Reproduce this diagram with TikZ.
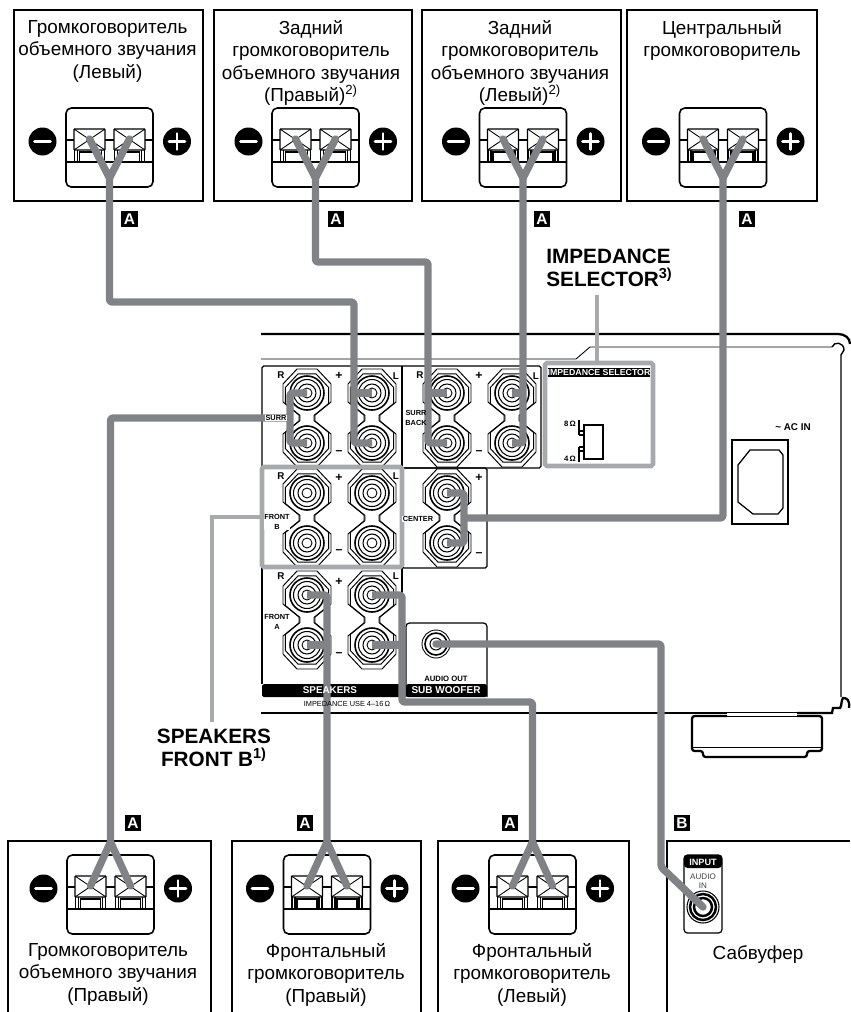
\documentclass[tikz,border=0pt]{standalone}
\usepackage{fontspec}
\setmainfont{Liberation Sans}
\definecolor{wiregray}{HTML}{808285}
\definecolor{markgray}{HTML}{A7A9AC}
\newcommand{\fs}[1]{\fontsize{#1}{#1}\selectfont}
\begin{document}
\begin{tikzpicture}[
    x=0.02cm, y=-0.02cm,
    wire/.style={draw=wiregray, line width=4.2pt, line join=round},
    callout/.style={draw=markgray, line width=2.6pt},
    thinline/.style={draw=black, line width=0.5pt},
    thickline/.style={draw=black, line width=1.3pt},
    spkbox/.style={draw=black, line width=0.6pt},
    spktext/.style={align=center, inner sep=0pt, anchor=north, execute at begin node=\strut, font=\fontsize{10.75}{12.8}\selectfont},
    notetext/.style={inner sep=0pt, font=\fontsize{11.8}{12.9}\selectfont\bfseries},
    tag/.style={fill=black, text=white, font=\fs{8.8}\bfseries, minimum size=9.6pt, inner sep=0pt},
    panellabel/.style={inner sep=0.4pt, align=center, font=\fontsize{4.2}{5.6}\selectfont\bfseries},
    polarity/.style={inner sep=0pt, font=\fs{7}\bfseries},
    terminalblock/.pic={
        \draw[black, line width=0.9pt, rounded corners=3pt] (-43.5,0) rectangle (43.5,79);
        \draw[thinline, line width=0.7pt] (-43.5,32) -- (-35,32) (-5,32) -- (5,32) (35,32) -- (43.5,32) (-43.5,54) -- (43.5,54);
        \foreach \c in {-20,20} {
            \draw[black, fill=white, line width=0.8pt, rounded corners=0.5pt] (\c-15.5,21) rectangle (\c+15.5,42);
            \draw[thinline] (\c-15.5,21) -- (\c+15.5,42) (\c-15.5,42) -- (\c+15.5,21);
            \draw[thinline, line width=0.7pt] (\c-15,42) -- (\c-15,55) (\c-12,42) -- (\c-12,55) (\c+12,42) -- (\c+12,55) (\c+15,42) -- (\c+15,55);
            \draw[thinline, line width=0.7pt] (\c-10,55) -- (\c-10,44) -- (\c+10,44) -- (\c+10,55);
        }
        \fill[black] (-67,33.5) circle[radius=14];
        \fill[black] (67.5,33.5) circle[radius=14];
        \draw[white, line width=1.5pt, line cap=round] (-75,33.5) -- (-59,33.5) (59.5,33.5) -- (75.5,33.5) (67.5,25.5) -- (67.5,41.5);
        \coordinate (-neg) at (-20,31);
        \coordinate (-pos) at (20,31);
        \coordinate (-forkdown) at (0,70);
        \coordinate (-forkup) at (0,-13);
    },
    postpair/.pic={
        \foreach \s in {1,0.9}
            \draw[thinline, line width=0.55pt, shift={(0,25)}, scale=\s] (10,-49) -- (24,-34) -- (24,-16) -- (8,-3) -- (8,3) -- (24,16) -- (24,34) -- (10,49) -- (-10,49) -- (-24,34) -- (-24,16) -- (-8,3) -- (-8,-3) -- (-24,-16) -- (-24,-34) -- (-10,-49) -- cycle;
        \foreach \r in {0,50} {
            \draw[black, fill=white, line width=0.9pt] (0,\r) circle[radius=17];
            \draw[black, line width=0.6pt] (0,\r) circle[radius=13.5];
            \draw[black, line width=0.6pt] (0,\r) circle[radius=9];
            \draw[black, line width=0.5pt] (0,\r) circle[radius=5];
        }
        \coordinate (-top) at (0,0);
        \coordinate (-bot) at (0,50);
    }
]
\useasboundingbox (0,0) rectangle (850,1012);

% Speaker boxes, top row
\draw[spkbox] (14,10) rectangle (203,201);
\draw[spkbox] (214,10) rectangle (412,201);
\draw[spkbox] (422,10) rectangle (621,201);
\draw[spkbox] (627,10) rectangle (817,201);
\node[spktext] at (107.5,20) (labelSL) {Громкоговоритель\\объемного звучания\\(Левый)};
\node[spktext] at (311,20) (labelSBR) {Задний\\громкоговоритель\\объемного звучания\\(Правый)\textsuperscript{2)}};
\node[spktext] at (520,20) (labelSBL) {Задний\\громкоговоритель\\объемного звучания\\(Левый)\textsuperscript{2)}};
\node[spktext] at (722,20) (labelC) {Центральный\\громкоговоритель};
\pic (blockSL) at (109.5,108) {terminalblock};
\pic (blockSBR) at (315.5,108) {terminalblock};
\pic (blockSBL) at (523,108) {terminalblock};
\pic (blockC) at (723,108) {terminalblock};

% Speaker boxes, bottom row
\draw[spkbox] (8,1012) -- (8,841) -- (211,841) -- (211,1012);
\draw[spkbox] (232,1012) -- (232,841) -- (421,841) -- (421,1012);
\draw[spkbox] (438,1012) -- (438,841) -- (629,841) -- (629,1012);
\draw[spkbox] (667,1012) -- (667,841) -- (850,841);
\node[spktext] at (108,943) (labelSR) {Громкоговоритель\\объемного звучания\\(Правый)};
\node[spktext] at (326,943) (labelFR) {Фронтальный\\громкоговоритель\\(Правый)};
\node[spktext] at (532,943) (labelFL) {Фронтальный\\громкоговоритель\\(Левый)};
\node[spktext] at (758,943) (labelSub) {Сабвуфер};
\pic (blockSR) at (110.5,855) {terminalblock};
\pic (blockFR) at (327,855) {terminalblock};
\pic (blockFL) at (532.5,855) {terminalblock};

% Subwoofer input
\draw[black, line width=0.7pt, rounded corners=2pt] (684,855) rectangle (722,933);
\fill[black, rounded corners=2pt] (684,855) -- (722,855) -- (722,868) -- (684,868) -- cycle;
\node[text=white, inner sep=0pt, font=\fs{5.2}\bfseries] at (703,862) (inputtitle) {INPUT};
\node[text=black!75, inner sep=0pt, align=center, font=\fontsize{4.6}{5.4}\selectfont] at (703,881) (inputname) {AUDIO\\IN};
\draw[black, line width=0.6pt] (703,907) circle[radius=16];
\draw[black, line width=1.4pt] (703,907) circle[radius=13];
\draw[black, line width=1.4pt] (703,907) circle[radius=9];
\coordinate (subin) at (703,907);

% Receiver outline
\draw[thickline] (261,334) -- (838,334) .. controls (845,334) and (850,338) .. (850,344);
\draw[thinline] (261,359) -- (576,359) -- (590,347) -- (832,347);
\draw[thinline, line width=0.8pt] (832,347) .. controls (834,341) and (844,342) .. (844,350) -- (841,355) -- (841,697);
\draw[thickline] (261,713) -- (727,713);
\draw[thickline] (797,713) -- (832,713) -- (833,708) -- (840,708) .. controls (842,706) and (841,700) .. (843,698) .. controls (847,698) and (850,700) .. (849,708);
\draw[thinline] (727,712) -- (797,712) (727,716) -- (797,716) (692,747) -- (822,747);
\draw[thickline, rounded corners=1.5pt] (727,716) -- (692,716) -- (692,751) -- (703,751) -- (703,757) -- (807,757) -- (807,751) -- (822,751) -- (822,716) -- (797,716);

% AC inlet
\draw[thinline, line width=0.6pt] (732,440) rectangle (788,524);
\draw[thinline, line width=0.7pt] (750,450) -- (779,450) -- (783,455) -- (783,508) -- (778,514) -- (753,514) -- (738,502) -- (738,465) -- cycle;
\node[inner sep=0pt, font=\fs{5.6}\bfseries] at (793,427) (acin) {\textasciitilde{} AC IN};

% Panels
\draw[thinline, line width=0.7pt, rounded corners=1pt] (262,366) rectangle (541,468);
\draw[thinline, line width=0.7pt] (402,366) -- (402,468);
\draw[thinline, line width=0.7pt, rounded corners=1pt] (402,468) rectangle (487,568);
\draw[thinline, line width=0.7pt] (262,468) -- (262,684) (402,568) -- (402,684);
\fill[black, rounded corners=1pt] (262,684) rectangle (402,697);
\draw[thinline, line width=0.7pt, rounded corners=2pt] (406,697) -- (406,623) -- (487,623) -- (487,697);
\fill[black, rounded corners=1pt] (406,684) rectangle (487,697);
\draw[black, line width=0.5pt] (436,644) circle[radius=14];
\draw[black, line width=0.9pt] (436,644) circle[radius=11];
\draw[black, line width=0.6pt] (436,644) circle[radius=6];
\coordinate (subout) at (436,644);

% Binding posts
\pic (surrR) at (307,393) {postpair};
\pic (surrL) at (372,393) {postpair};
\pic (backR) at (447,393) {postpair};
\pic (backL) at (512,393) {postpair};
\pic (frontbR) at (307,493) {postpair};
\pic (frontbL) at (372,493) {postpair};
\pic (centerpost) at (447,493) {postpair};
\pic (frontaR) at (307,595) {postpair};
\pic (frontaL) at (372,595) {postpair};

% Impedance selector
\draw[callout, rounded corners=1pt] (545,363) rectangle (653,466);
\fill[black] (548,368) rectangle (650,377);
\node[text=white, inner sep=0pt, font=\fs{5}\bfseries] at (599,372.5) (impbar) {IMPEDANCE SELECTOR};
\draw[thinline, line width=0.7pt] (584,425) rectangle (603,459);
\draw[thinline, line width=0.7pt] (579,420) -- (579,435) (579,447) -- (579,462) (579,431) -- (584,431) (579,435) -- (584,435) (579,447) -- (584,447) (579,451) -- (584,451);
\node[inner sep=0pt, font=\fs{4.4}\bfseries] at (570,424) (imp8) {8\,Ω};
\node[inner sep=0pt, font=\fs{4.4}\bfseries] at (570,459) (imp4) {4\,Ω};
\coordinate (impleader) at (597,295);
\draw[callout] (impleader) -- (597,363);
\node[notetext, anchor=west, align=left] at (546,268) (impnote) {IMPEDANCE\\SELECTOR\textsuperscript{3)}};

% Front B marking
\draw[callout, rounded corners=1pt] (262,467) rectangle (402,567);
\coordinate (frontbbend) at (212,517);
\coordinate (frontbleader) at (212,722);
\draw[callout] (262,517) -- (frontbbend) -- (frontbleader);
\node[notetext, align=center] at (214,748) (frontbnote) {SPEAKERS\\FRONT B\textsuperscript{1)}};

% Wires
\coordinate (busSL) at (354,302);
\draw[wire, line cap=round] (blockSL-neg) -- (blockSL-forkdown) -- (blockSL-pos);
\draw[wire, rounded corners=1.5pt] (blockSL-forkdown) |- (busSL) -- (busSL |- surrL-bot) -- (surrL-bot);
\draw[wire] (busSL |- surrL-top) -- (surrL-top);

\coordinate (busSBR) at (428,262);
\draw[wire, line cap=round] (blockSBR-neg) -- (blockSBR-forkdown) -- (blockSBR-pos);
\draw[wire, rounded corners=1.5pt] (blockSBR-forkdown) |- (busSBR) -- (busSBR |- backR-bot) -- (backR-bot);
\draw[wire] (busSBR |- backR-top) -- (backR-top);

\coordinate (busSBL) at (blockSBL-forkdown);
\draw[wire, line cap=round] (blockSBL-neg) -- (blockSBL-forkdown) -- (blockSBL-pos);
\draw[wire, rounded corners=1.5pt] (blockSBL-forkdown) -- (busSBL |- backL-bot) -- (backL-bot);
\draw[wire] (busSBL |- backL-top) -- (backL-top);

\coordinate (busC) at (464,518);
\draw[wire, line cap=round] (blockC-neg) -- (blockC-forkdown) -- (blockC-pos);
\draw[wire, rounded corners=1.5pt] (blockC-forkdown) |- (busC);
\draw[wire, rounded corners=1.5pt] (centerpost-top) -| (busC |- centerpost-bot) -- (centerpost-bot);

\coordinate (busSR) at (290,418);
\draw[wire, line cap=round] (blockSR-neg) -- (blockSR-forkup) -- (blockSR-pos);
\draw[wire, rounded corners=1.5pt] (blockSR-forkup) |- (busSR);
\draw[wire, rounded corners=1.5pt] (surrR-top) -| (busSR |- surrR-bot) -- (surrR-bot);

\draw[wire, line cap=round] (blockFR-neg) -- (blockFR-forkup) -- (blockFR-pos);
\draw[wire, rounded corners=1.5pt] (blockFR-forkup) |- (frontaR-top);
\draw[wire] (blockFR-forkup |- frontaR-bot) -- (frontaR-bot);

\coordinate (busFL) at (402,702);
\draw[wire, line cap=round] (blockFL-neg) -- (blockFL-forkup) -- (blockFL-pos);
\draw[wire, rounded corners=1.5pt] (blockFL-forkup) |- (busFL) |- (frontaL-top);
\draw[wire] (busFL |- frontaL-bot) -- (frontaL-bot);

\coordinate (subbendA) at (661,644);
\coordinate (subbendB) at (661,867);
\draw[wire, line cap=round, rounded corners=1.5pt] (subout) -- (subbendA) -- (subbendB) -- (subin);

% Panel labels
\foreach \px/\py/\ptext in {281/375/R, 396/376/L, 420/375/R, 536/376/L, 281/476/R, 396/476/L, 281/576/R, 396/576/L}
    \node[inner sep=0pt, font=\fs{5.6}\bfseries] at (\px,\py) {\ptext};
\foreach \px/\py in {339/376, 479/376, 339/478, 479/478, 339/582}
    \node[polarity] at (\px,\py) {+};
\foreach \px/\py in {339/453, 479/453, 339/552, 479/555, 339/655}
    \node[polarity] at (\px,\py) {–};
\node[panellabel, fill=white] at (276,418) (surrlabel) {SURR};
\node[panellabel] at (416,418) (backlabel) {SURR\\BACK};
\node[panellabel, fill=white] at (277,522) (frontblabel) {FRONT\\B};
\node[panellabel, fill=white] at (418,519) (centerlabel) {CENTER};
\node[panellabel, fill=white] at (277,622) (frontalabel) {FRONT\\A};
\node[text=white, inner sep=0pt, font=\fs{5.6}\bfseries] at (330,690.5) (speakerslabel) {SPEAKERS};
\node[text=white, inner sep=0pt, font=\fs{5.7}\bfseries] at (446,690.5) (woofertitle) {SUB WOOFER};
\node[inner sep=0pt, font=\fs{4.4}\bfseries] at (446,679) (audiolabel) {AUDIO OUT};
\node[inner sep=0pt, font=\fs{4.2}] at (347,704) (impedanceuse) {IMPEDANCE USE 4–16\,Ω};

% Cable tags
\node[tag] at (129.5,219) (tagA) {A};
\node[tag] at (336,219) (tagB) {A};
\node[tag] at (542,219) (tagC) {A};
\node[tag] at (747,219) (tagD) {A};
\node[tag] at (133,823) (tagE) {A};
\node[tag] at (305,823) (tagF) {A};
\node[tag] at (510,823) (tagG) {A};
\node[tag] at (682,823) (tagH) {B};
\end{tikzpicture}
\end{document}
